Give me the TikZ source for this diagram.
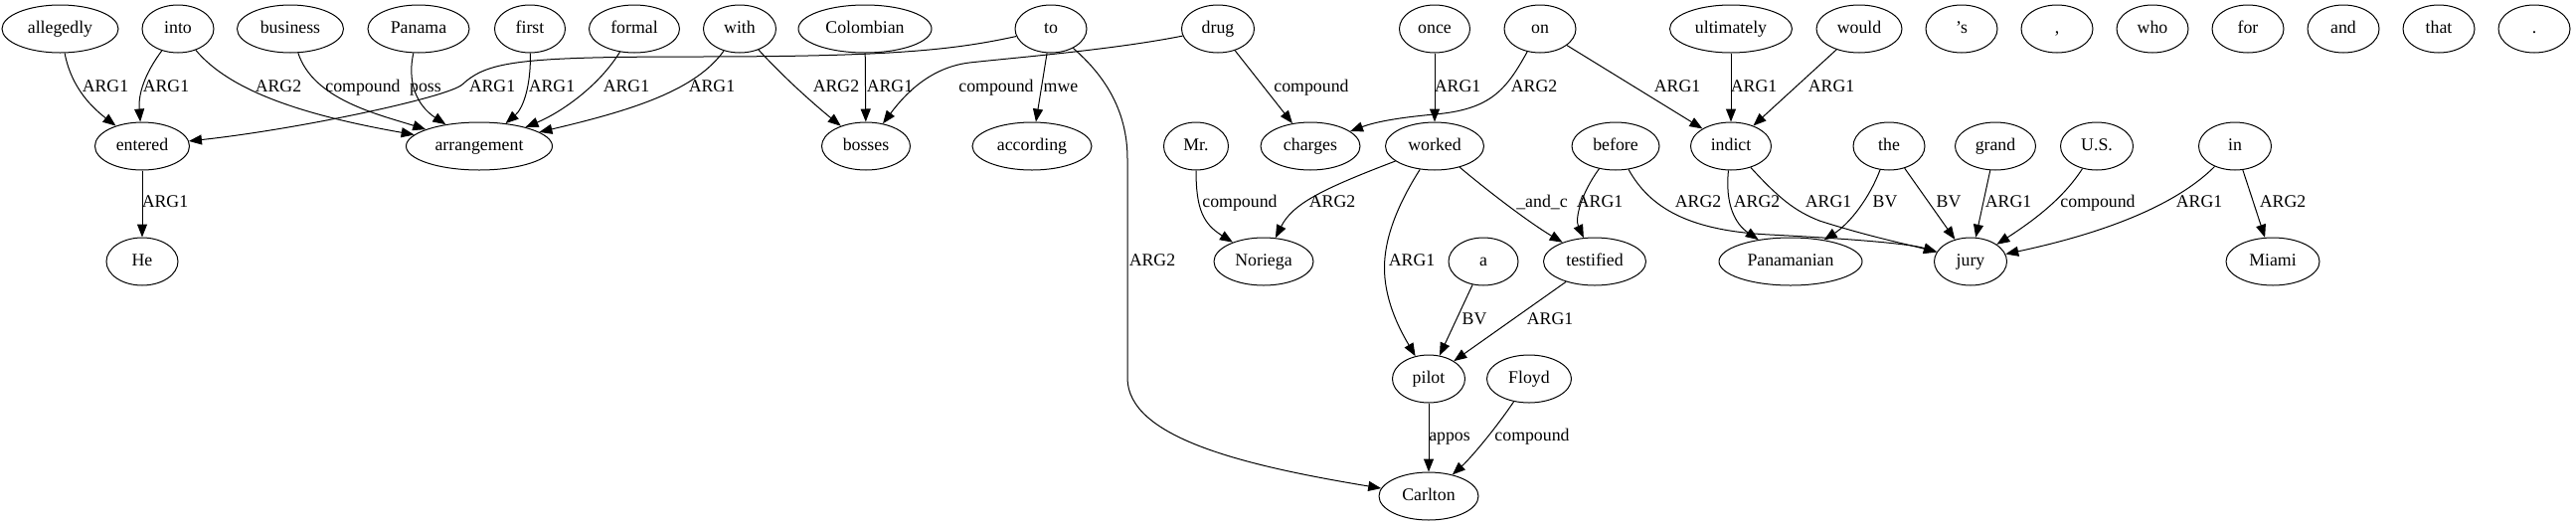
\documentclass[tikz,border=0pt]{standalone}
\usepackage{fontspec}
\setmainfont{Liberation Serif}
\usetikzlibrary{shapes.geometric, arrows.meta}
\begin{document}
\begin{tikzpicture}[x=1pt, y=-1pt,
  nd/.style={draw, ellipse, line width=1pt, minimum height=48pt, minimum width=#1, inner sep=0pt, text height=12.5pt, text depth=3.5pt, font=\fontsize{17.8}{20}\selectfont},
  nd/.default=72pt,
  edge/.style={line width=1pt, -{Triangle[length=13pt, width=10pt]}},
  lbl/.style={inner sep=0pt, text height=12.5pt, text depth=3.5pt, font=\fontsize{17.8}{20}\selectfont}]
\useasboundingbox (0,0) rectangle (2591,528);
% row 1
\node[nd=117pt] (allegedly) at (60.5,29) {allegedly};
\node[nd] (into) at (179,29) {into};
\node[nd=107pt] (business) at (292,29) {business};
\node[nd=102pt] (panama) at (421,29) {Panama};
\node[nd=71pt] (first) at (533,29) {first};
\node[nd=91pt] (formal) at (638,29) {formal};
\node[nd=73pt] (with) at (744,29) {with};
\node[nd=134pt] (colombian) at (870,29) {Colombian};
\node[nd] (to) at (1057,29) {to};
\node[nd=73pt] (drug) at (1225,29) {drug};
\node[nd=71pt] (once) at (1443,29) {once};
\node[nd] (on) at (1549,29) {on};
\node[nd=123pt] (ultimately) at (1741,29) {ultimately};
\node[nd=86pt] (would) at (1870,29) {would};
\node[nd] (apos) at (1973,29) {’s};
\node[nd] (comma) at (2069,29) {,};
\node[nd] (who) at (2165,29) {who};
\node[nd] (for) at (2261,29) {for};
\node[nd] (and) at (2357,29) {and};
\node[nd] (that) at (2453,29) {that};
\node[nd] (period) at (2549,29) {.};
% row 2
\node[nd=95pt] (entered) at (143,147) {entered};
\node[nd=147pt] (arrangement) at (482,147) {arrangement};
\node[nd=89pt] (bosses) at (871,147) {bosses};
\node[nd=120pt] (according) at (1038,147) {according};
\node[nd=65pt] (mr) at (1203,147) {Mr.};
\node[nd=100pt] (charges) at (1318,147) {charges};
\node[nd=99pt] (worked) at (1443,147) {worked};
\node[nd=88pt] (before) at (1625,147) {before};
\node[nd=81pt] (indict) at (1741,147) {indict};
\node[nd] (the) at (1900,147) {the};
\node[nd=81pt] (grand) at (2007,147) {grand};
\node[nd=73pt] (us) at (2109,147) {U.S.};
\node[nd=73pt] (in) at (2248,147) {in};
% row 3
\node[nd] (he) at (143,263) {He};
\node[nd=100pt] (noriega) at (1271,263) {Noriega};
\node[nd=70pt] (a) at (1492,263) {a};
\node[nd=103pt] (testified) at (1604,263) {testified};
\node[nd=144pt] (panamanian) at (1801,263) {Panamanian};
\node[nd=73pt] (jury) at (1982,263) {jury};
\node[nd=94pt] (miami) at (2286,263) {Miami};
% row 4
\node[nd=73pt] (pilot) at (1437,381) {pilot};
\node[nd=85pt] (floyd) at (1538,381) {Floyd};
% row 5
\node[nd=100pt] (carlton) at (1437,499) {Carlton};

% edges row1 -> row2
\draw[edge] (allegedly) .. controls (72,90) and (95,110) .. (entered);
\draw[edge] (into) .. controls (145,75) and (139,95) .. (entered);
\draw[edge] (into) .. controls (230,90) and (300,115) .. (arrangement);
\draw[edge] (business) .. controls (315,100) and (380,115) .. (arrangement);
\draw[edge] (panama) .. controls (408,90) and (425,110) .. (arrangement);
\draw[edge] (to) .. controls (960,50) and (900,57) .. (700,57) .. controls (520,57) and (490,62) .. (465,85) .. controls (450,98) and (300,130) .. (entered);
\draw[edge] (first) .. controls (534,90) and (525,110) .. (arrangement);
\draw[edge] (formal) .. controls (600,90) and (560,115) .. (arrangement);
\draw[edge] (with) .. controls (700,90) and (640,110) .. (arrangement);
\draw[edge] (with) .. controls (790,80) and (825,110) .. (bosses);
\draw[edge] (colombian) -- (bosses);
\draw[edge] (drug) .. controls (1120,50) and (1020,58) .. (975,63) .. controls (935,68) and (910,95) .. (bosses);
\draw[edge] (to) -- (according);
\draw[edge] (to) .. controls (1110,75) and (1134,110) .. (1134,160) -- (1134,380) .. controls (1134,440) and (1250,468) .. (carlton);
\draw[edge] (drug) -- (charges);
\draw[edge] (once) -- (worked);
\draw[edge] (on) .. controls (1515,90) and (1500,110) .. (1443,115) .. controls (1410,118) and (1385,122) .. (charges);
\draw[edge] (on) -- (indict);
\draw[edge] (ultimately) -- (indict);
\draw[edge] (would) -- (indict);
% row2 -> row3
\draw[edge] (entered) -- (he);
\draw[edge] (mr) .. controls (1203,210) and (1210,225) .. (noriega);
\draw[edge] (worked) .. controls (1330,190) and (1300,205) .. (noriega);
\draw[edge] (worked) .. controls (1400,215) and (1390,250) .. (1393,280) .. controls (1396,310) and (1410,335) .. (pilot);
\draw[edge] (worked) .. controls (1500,195) and (1540,225) .. (testified);
\draw[edge] (before) .. controls (1590,195) and (1584,220) .. (testified);
\draw[edge] (before) .. controls (1660,210) and (1700,232) .. (1780,236) .. controls (1860,240) and (1920,245) .. (jury);
\draw[edge] (indict) .. controls (1735,205) and (1745,225) .. (panamanian);
\draw[edge] (indict) .. controls (1790,200) and (1805,212) .. (1830,222) .. controls (1880,238) and (1920,246) .. (jury);
\draw[edge] (the) .. controls (1880,200) and (1860,225) .. (panamanian);
\draw[edge] (the) -- (jury);
\draw[edge] (grand) -- (jury);
\draw[edge] (us) .. controls (2075,200) and (2045,222) .. (jury);
\draw[edge] (in) .. controls (2180,215) and (2090,240) .. (jury);
\draw[edge] (in) -- (miami);
% row3 -> row4 -> row5
\draw[edge] (a) -- (pilot);
\draw[edge] (testified) -- (pilot);
\draw[edge] (pilot) -- (carlton);
\draw[edge] (floyd) .. controls (1505,430) and (1480,460) .. (carlton);

% labels
\node[lbl] (l1) at (106,88) {ARG1};
\node[lbl] (l2) at (167,88) {ARG1};
\node[lbl] (l3) at (280,88) {ARG2};
\node[lbl] (l4) at (365,88) {compound};
\node[lbl] (l5) at (428,88) {poss};
\node[lbl] (l6) at (495,88) {ARG1};
\node[lbl] (l7) at (555,88) {ARG1};
\node[lbl] (l8) at (630,88) {ARG1};
\node[lbl] (l9) at (716,88) {ARG1};
\node[lbl] (l10) at (841,88) {ARG2};
\node[lbl] (l11) at (895,88) {ARG1};
\node[lbl] (l12) at (1002,88) {compound};
\node[lbl] (l13) at (1067,88) {mwe};
\node[lbl] (l14) at (1319,88) {compound};
\node[lbl] (l15) at (1466,88) {ARG1};
\node[lbl] (l16) at (1543,88) {ARG2};
\node[lbl] (l17) at (1687,88) {ARG1};
\node[lbl] (l18) at (1764,88) {ARG1};
\node[lbl] (l19) at (1842,88) {ARG1};
\node[lbl] (l20) at (166,204) {ARG1};
\node[lbl] (l21) at (1247,204) {compound};
\node[lbl] (l22) at (1340,204) {ARG2};
\node[lbl] (l23) at (1551,204) {\_and\_c};
\node[lbl] (l24) at (1609,204) {ARG1};
\node[lbl] (l25) at (1708,204) {ARG2};
\node[lbl] (l26) at (1767,204) {ARG2};
\node[lbl] (l27) at (1839,204) {ARG1};
\node[lbl] (l28) at (1896,204) {BV};
\node[lbl] (l29) at (1960,204) {BV};
\node[lbl] (l30) at (2020,204) {ARG1};
\node[lbl] (l31) at (2110,204) {compound};
\node[lbl] (l32) at (2212,204) {ARG1};
\node[lbl] (l33) at (2296,204) {ARG2};
\node[lbl] (l34) at (1420,263) {ARG1};
\node[lbl] (l35) at (1159,263) {ARG2};
\node[lbl] (l36) at (1483,322) {BV};
\node[lbl] (l37) at (1559,322) {ARG1};
\node[lbl] (l38) at (1458,439) {appos};
\node[lbl] (l39) at (1541,439) {compound};
\end{tikzpicture}
\end{document}
